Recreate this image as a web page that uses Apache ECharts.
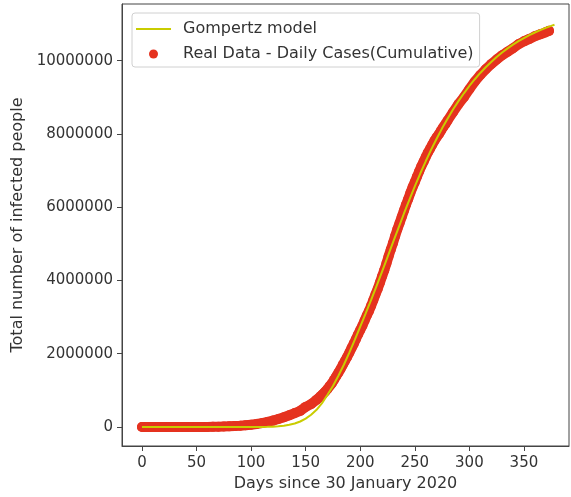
<!DOCTYPE html>
<html>
<head>
<meta charset="utf-8">
<script src="https://cdn.jsdelivr.net/npm/echarts@6/dist/echarts.min.js"></script>
<style>html,body{margin:0;padding:0;background:#fff}#c{width:571px;height:497px}</style>
</head>
<body>
<div id="c"></div>
<script>
// Real data (cumulative cases), days since 30 January 2020
const realDays = [0,5,10,15,20,25,30,35,40,45,50,55,60,65,70,75,80,85,90,95,100,105,110,115,120,125,130,135,140,145,150,155,
  160,162,164,166,168,170,172,174,176,178,180,182,184,186,188,190,192,194,196,198,200,202,204,206,208,210,212,214,216,218,
  220,222,224,226,228,230,232,234,236,238,240,242,244,246,248,250,252,254,256,258,260,262,264,266,268,270,272,274,276,278,280,
  285,290,295,300,305,310,315,320,325,330,335,340,345,350,355,360,365,370,373];
const realCases = [1,3,3,3,3,3,3,30,62,113,250,657,1251,3588,6412,11487,17615,24530,33050,46711,62939,81997,106750,138536,173763,216824,266598,320922,380532,440215,548318,625544,
  742417,793802,849553,906752,968876,1038716,1118043,1193078,1287945,1385522,1483156,1583792,1695988,1803695,1908254,2027074,2153010,2268675,2396637,2526192,2647663,2767273,2905825,3044940,3167323,3310234,3463972,3621245,3769523,3936747,
  4113811,4280422,4465863,4659984,4846427,5020359,5214677,5400619,5562663,5732518,5903932,6074702,6225763,6394068,6549373,6685082,6835655,6979423,7120538,7239389,7370468,7494551,7597063,7706946,7814682,7909959,7990322,8088851,8184082,8267623,8364086,
  8591730,8814579,9004365,9222216,9431691,9608211,9767371,9906165,10031223,10146845,10244852,10340469,10450284,10527683,10595639,10667736,10720048,10777284,10814304];

// Gompertz model curve
const modelDays = [0,20,40,60,80,90,100,105,110,115,120,125,130,135,140,145,150,155,160,165,170,175,180,185,190,195,200,205,210,215,220,225,230,235,240,245,250,255,260,265,270,275,280,285,290,295,300,305,310,315,320,325,330,335,340,345,350,355,360,365,370,375,378];
const modelCases = [0,0,0,0,0,30,340,900,2100,4600,9800,18900,34500,58900,96200,150000,230000,335000,470000,650000,880000,1120000,1400000,1700000,2030000,2380000,2740000,3100000,3470000,3850000,4240000,4640000,5040000,5430000,5822000,6203000,6569000,6920000,7254000,7572000,7871000,8153000,8418000,8666000,8896000,9110000,9310000,9494000,9666000,9822000,9967000,10102000,10224000,10336000,10439000,10534000,10619000,10698000,10770000,10835000,10895000,10951000,10982000];

const xTicks = [0,50,100,150,200,250,300,350];
const yTicks = [0,2000000,4000000,6000000,8000000,10000000];

const FONT = 'DejaVu Sans';
const TXT = '#333';
const LINE = '#444';
const RED = '#e5321f';
const YEL = '#c9cc00';

const realPts = realDays.map((d,i)=>[d, realCases[i]]);

const chart = echarts.init(document.getElementById('c'), null, {renderer:'canvas'});
chart.setOption({
  animation:false,
  backgroundColor:'#fff',
  textStyle:{fontFamily:FONT},
  grid:{left:122, right:2, top:4, bottom:51, outerBoundsMode:'none', containLabel:false,
        show:true, borderColor:LINE, borderWidth:1, backgroundColor:'transparent'},
  legend:{
    orient:'vertical', left:132, top:13, padding:[8,6,5,3],
    backgroundColor:'#fff', borderColor:'#d0d0d0', borderWidth:1, borderRadius:3,
    itemWidth:35, itemHeight:9, itemGap:9,
    textStyle:{fontFamily:FONT, fontSize:16, color:TXT, padding:[0,0,0,7]},
    data:[
      {name:'Gompertz model', itemStyle:{opacity:0}, lineStyle:{color:YEL, width:2}},
      {name:'Real Data - Daily Cases(Cumulative)', icon:'circle'}
    ]
  },
  xAxis:{
    type:'value', min:-18.3, max:391.3,
    name:'Days since 30 January 2020', nameLocation:'middle', nameGap:29,
    nameTextStyle:{fontFamily:FONT, fontSize:16, color:TXT},
    axisLine:{show:true, onZero:false, lineStyle:{color:LINE}},
    axisTick:{show:true, inside:false, length:5, lineStyle:{color:LINE}, customValues:xTicks},
    axisLabel:{fontFamily:FONT, fontSize:15, color:TXT, margin:10, customValues:xTicks},
    splitLine:{show:false}
  },
  yAxis:{
    type:'value', min:-519000, max:11548000,
    name:'Total number of infected people', nameLocation:'middle', nameGap:96,
    nameTextStyle:{fontFamily:FONT, fontSize:16, color:TXT},
    axisLine:{show:true, onZero:false, lineStyle:{color:LINE}},
    axisTick:{show:true, inside:false, length:5, lineStyle:{color:LINE}, customValues:yTicks},
    axisLabel:{fontFamily:FONT, fontSize:15, color:TXT, margin:9, customValues:yTicks, formatter:v=>String(v)},
    splitLine:{show:false}
  },
  series:[
    {
      name:'realBand', type:'line', z:1, showSymbol:false, symbol:'none', silent:true,
      lineStyle:{color:RED, width:10, cap:'round', join:'round'},
      data: realPts
    },
    {
      name:'Real Data - Daily Cases(Cumulative)', type:'scatter', z:2,
      symbol:'circle', symbolSize:10,
      itemStyle:{color:RED, opacity:1},
      data: realPts
    },
    {
      name:'Gompertz model', type:'line', z:3, showSymbol:false, symbol:'none',
      lineStyle:{color:YEL, width:2},
      itemStyle:{color:YEL},
      data: modelDays.map((d,i)=>[d, modelCases[i]])
    }
  ]
});
</script>
</body>
</html>
